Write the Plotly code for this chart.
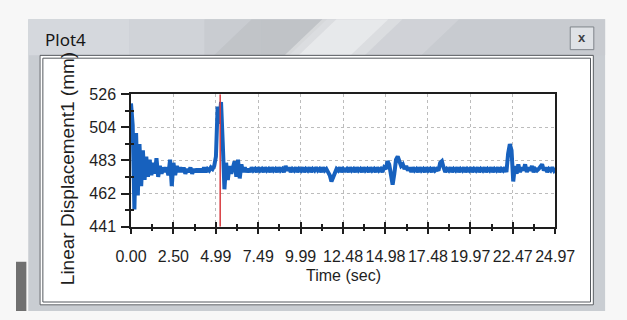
import plotly.graph_objects as go

# ---------------- data ----------------
SAMPLE_DT = 0.1      # s, sampling interval of the record
T_END = 24.968       # s, end of the record (last tick shows 24.97)
DISPLACEMENT_MM = [
    520, 506, 452, 501, 461, 494, 467, 490, 471, 486,
    473, 484, 474, 482, 475, 485, 473, 480, 475, 479,
    476, 479, 474, 484, 467, 482, 474, 480, 476, 479,
    476, 479, 475, 478, 476, 479, 475, 478, 476, 478,
    476, 478, 476, 479, 476, 478, 477, 479, 478, 480,
    486, 518, 507, 521, 495, 465, 482, 471, 480, 475,
    479, 483, 473, 484, 472, 481, 476, 479, 476, 478,
    476, 479, 477, 478, 476, 479, 477, 478, 476, 479,
    477, 478, 476, 479, 477, 478, 476, 479, 477, 478,
    476, 480, 477, 479, 476, 478, 477, 479, 476, 478,
    477, 479, 476, 478, 477, 479, 476, 478, 477, 479,
    477, 478, 476, 479, 477, 478, 476, 474, 470, 473,
    476, 478, 477, 479, 476, 478, 477, 478, 476, 479,
    477, 478, 476, 479, 477, 478, 476, 479, 477, 478,
    476, 479, 477, 478, 476, 479, 477, 478, 476, 479,
    478, 483, 481, 473, 468, 475, 484, 486, 482, 480,
    481, 478, 480, 477, 479, 476, 479, 477, 478, 476,
    479, 477, 478, 476, 479, 477, 478, 476, 479, 477,
    478, 477, 482, 483, 479, 476, 478, 477, 479, 476,
    478, 477, 479, 476, 478, 477, 479, 476, 478, 477,
    479, 476, 478, 477, 479, 476, 478, 477, 479, 476,
    478, 477, 479, 476, 478, 477, 479, 476, 478, 477,
    479, 476, 488, 494, 490, 470, 480, 475, 481, 476,
    479, 477, 481, 476, 479, 477, 480, 476, 478, 477,
    478, 480, 481, 477, 479, 476, 478, 477, 479, 477,
    478,
]
TIME_S = [round(i * SAMPLE_DT, 3) for i in range(len(DISPLACEMENT_MM) - 1)] + [T_END]

X_TICK_LABELS = ["0.00", "2.50", "4.99", "7.49", "9.99", "12.48",
                 "14.98", "17.48", "19.97", "22.47", "24.97"]
Y_MIN, Y_MAX = 441, 526
Y_TICK_LABELS = ["441", "462", "483", "504", "526"]
CURSOR_T = 5.25
WINDOW_TITLE = "Plot4"
X_TITLE = "Time (sec)"
Y_TITLE = "Linear Displacement1 (mm)"

# ---------------- layout helpers ----------------
W, H = 627, 320
FONT = "Liberation Sans, Arial, sans-serif"
INK = "#1e1e1e"
PAGE_BG = "#f7f7f7"


def fx(px):
    return px / W


def fy(py):
    return 1 - py / H


def prect(x0, y0, x1, y1, fill, line_color=None, lw=0, layer="below"):
    return dict(type="rect", xref="paper", yref="paper", x0=fx(x0), x1=fx(x1),
                y0=fy(y1), y1=fy(y0), fillcolor=fill, layer=layer,
                line=dict(width=lw, color=line_color or "rgba(0,0,0,0)"))


def ppath(points, fill, opacity=1.0):
    p = "M " + " L ".join(f"{fx(x):.5f},{fy(y):.5f}" for x, y in points) + " Z"
    return dict(type="path", xref="paper", yref="paper", path=p, fillcolor=fill,
                opacity=opacity, layer="below", line=dict(width=0))


PL, PR, PT, PB = 122, 572, 91, 231

x_major = [T_END * k / 10 for k in range(11)]
x_minor = [T_END * (k + 0.5) / 10 for k in range(10)]
y_major = [Y_MIN + (Y_MAX - Y_MIN) * k / 4 for k in range(5)]
y_minor = [Y_MIN + (Y_MAX - Y_MIN) * (k + 0.5) / 4 for k in range(4)]

fig = go.Figure()
fig.add_trace(go.Scatter(x=TIME_S, y=DISPLACEMENT_MM, mode="lines",
                         line=dict(color="#1761be", width=4),
                         hoverinfo="skip", showlegend=False))
fig.add_trace(go.Scatter(x=[0], y=[Y_MIN], xaxis="x2", yaxis="y2", mode="markers",
                         marker=dict(opacity=0), hoverinfo="skip", showlegend=False))

shapes = []
# background window edge at the far left bottom
shapes.append(prect(0, 268, 11, 320, "#707070"))
# window frame
shapes.append(prect(13, 12, 625, 320, "#c9cdd2"))
# panel white
shapes.append(prect(25, 50, 613, 314, "#ffffff"))
# title bar
strips = [(13, 120, "#d5d8dd"), (120, 200, "#d0d3d8"), (200, 260, "#c9ccd1"),
          (260, 625, "#c8cbd0")]
for x0, x1, c in strips:
    shapes.append(prect(x0, 12, x1, 50, c))
shapes.append(ppath([(250, 12), (330, 12), (290, 50), (210, 50)], "#000000", 0.04))
shapes.append(ppath([(325, 12), (410, 12), (370, 50), (285, 50)], "#ffffff", 0.35))
shapes.append(ppath([(340, 12), (395, 12), (355, 50), (300, 50)], "#ffffff", 0.35))
shapes.append(ppath([(410, 12), (470, 12), (430, 50), (370, 50)], "#ffffff", 0.15))
# panel double border
shapes.append(prect(25.5, 50, 612.5, 313.5, "rgba(0,0,0,0)", "#55595e", 1))
shapes.append(prect(28.5, 53, 609.5, 310.5, "rgba(0,0,0,0)", "#55595e", 1))
# close button
shapes.append(prect(588, 20, 613, 44, "#dfe2e6", "#7f848a", 1))
# cursor
shapes.append(dict(type="line", xref="x", yref="y", x0=CURSOR_T, x1=CURSOR_T,
                   y0=Y_MIN, y1=Y_MAX, line=dict(color="#d83a3f", width=1.5),
                   layer="above"))

YT_SIZE = 19
yt_center = 286 - 12.28 * YT_SIZE / 2
annotations = [
    dict(text=WINDOW_TITLE, x=fx(29), y=fy(33), xref="paper", yref="paper",
         xanchor="left", yanchor="middle", showarrow=False,
         font=dict(size=17, color="#161616", family="Noto Sans, Open Sans, sans-serif")),
    dict(text="<b>x</b>", x=fx(600.5), y=fy(31), xref="paper", yref="paper",
         xanchor="center", yanchor="middle", showarrow=False,
         font=dict(size=13, color="#3c3f44", family=FONT)),
    dict(text=X_TITLE, x=fx((PL + PR) / 2), y=fy(283), xref="paper", yref="paper",
         xanchor="center", yanchor="middle", showarrow=False,
         font=dict(size=16, color=INK, family=FONT)),
    dict(text=Y_TITLE, x=fx(55), y=fy(yt_center), xref="paper", yref="paper",
         xanchor="center", yanchor="middle", showarrow=False, textangle=-90,
         font=dict(size=YT_SIZE, color=INK, family=FONT)),
]

axis_common = dict(showline=True, linecolor=INK, linewidth=1.5, mirror=True,
                   zeroline=False, tickcolor=INK, tickwidth=1.5,
                   tickfont=dict(size=16, color=INK, family=FONT),
                   showgrid=True, gridcolor="#bcbcbc", griddash="dot", gridwidth=1)

fig.update_layout(
    width=W, height=H, autosize=False,
    margin=dict(l=0, r=0, t=0, b=0),
    paper_bgcolor=PAGE_BG, plot_bgcolor="#ffffff",
    showlegend=False,
    xaxis=dict(domain=[fx(PL), fx(PR)], range=[0, T_END], anchor="y",
               tickmode="array", tickvals=x_major, ticktext=X_TICK_LABELS,
               ticks="outside", ticklen=6, ticklabelstandoff=8,
               minor=dict(tickmode="array", tickvals=x_minor, ticks="outside",
                          ticklen=3, tickwidth=1.5, tickcolor=INK, showgrid=False),
               **axis_common),
    yaxis=dict(domain=[fy(PB), fy(PT)], range=[Y_MIN, Y_MAX], anchor="x",
               tickmode="array", tickvals=y_major, ticktext=Y_TICK_LABELS,
               ticks="outside", ticklen=8, ticklabelstandoff=2,
               minor=dict(tickmode="array", tickvals=y_minor, ticks="outside",
                          ticklen=4, tickwidth=1.5, tickcolor=INK, showgrid=False),
               **axis_common),
    xaxis2=dict(domain=[fx(PL), fx(PR)], range=[0, T_END], overlaying="x", anchor="y2",
                showline=False, showgrid=False, zeroline=False, showticklabels=False,
                tickmode="array", tickvals=x_major, ticks="inside", ticklen=5,
                tickwidth=1.5, tickcolor=INK,
                minor=dict(tickmode="array", tickvals=x_minor, ticks="inside",
                           ticklen=3, tickwidth=1.5, tickcolor=INK, showgrid=False)),
    yaxis2=dict(domain=[fy(PB), fy(PT)], range=[Y_MIN, Y_MAX], overlaying="y", anchor="x2",
                showline=False, showgrid=False, zeroline=False, showticklabels=False,
                tickmode="array", tickvals=y_minor, ticks="inside", ticklen=3,
                tickwidth=1.5, tickcolor=INK),
    shapes=shapes,
    annotations=annotations,
)

POST = ("document.body.style.margin='0';"
        "document.body.style.background='" + PAGE_BG + "';"
        "document.documentElement.style.overflow='hidden';"
        "document.body.style.overflow='hidden';")
fig.write_html("out.html", config={"displayModeBar": False}, post_script=POST)
